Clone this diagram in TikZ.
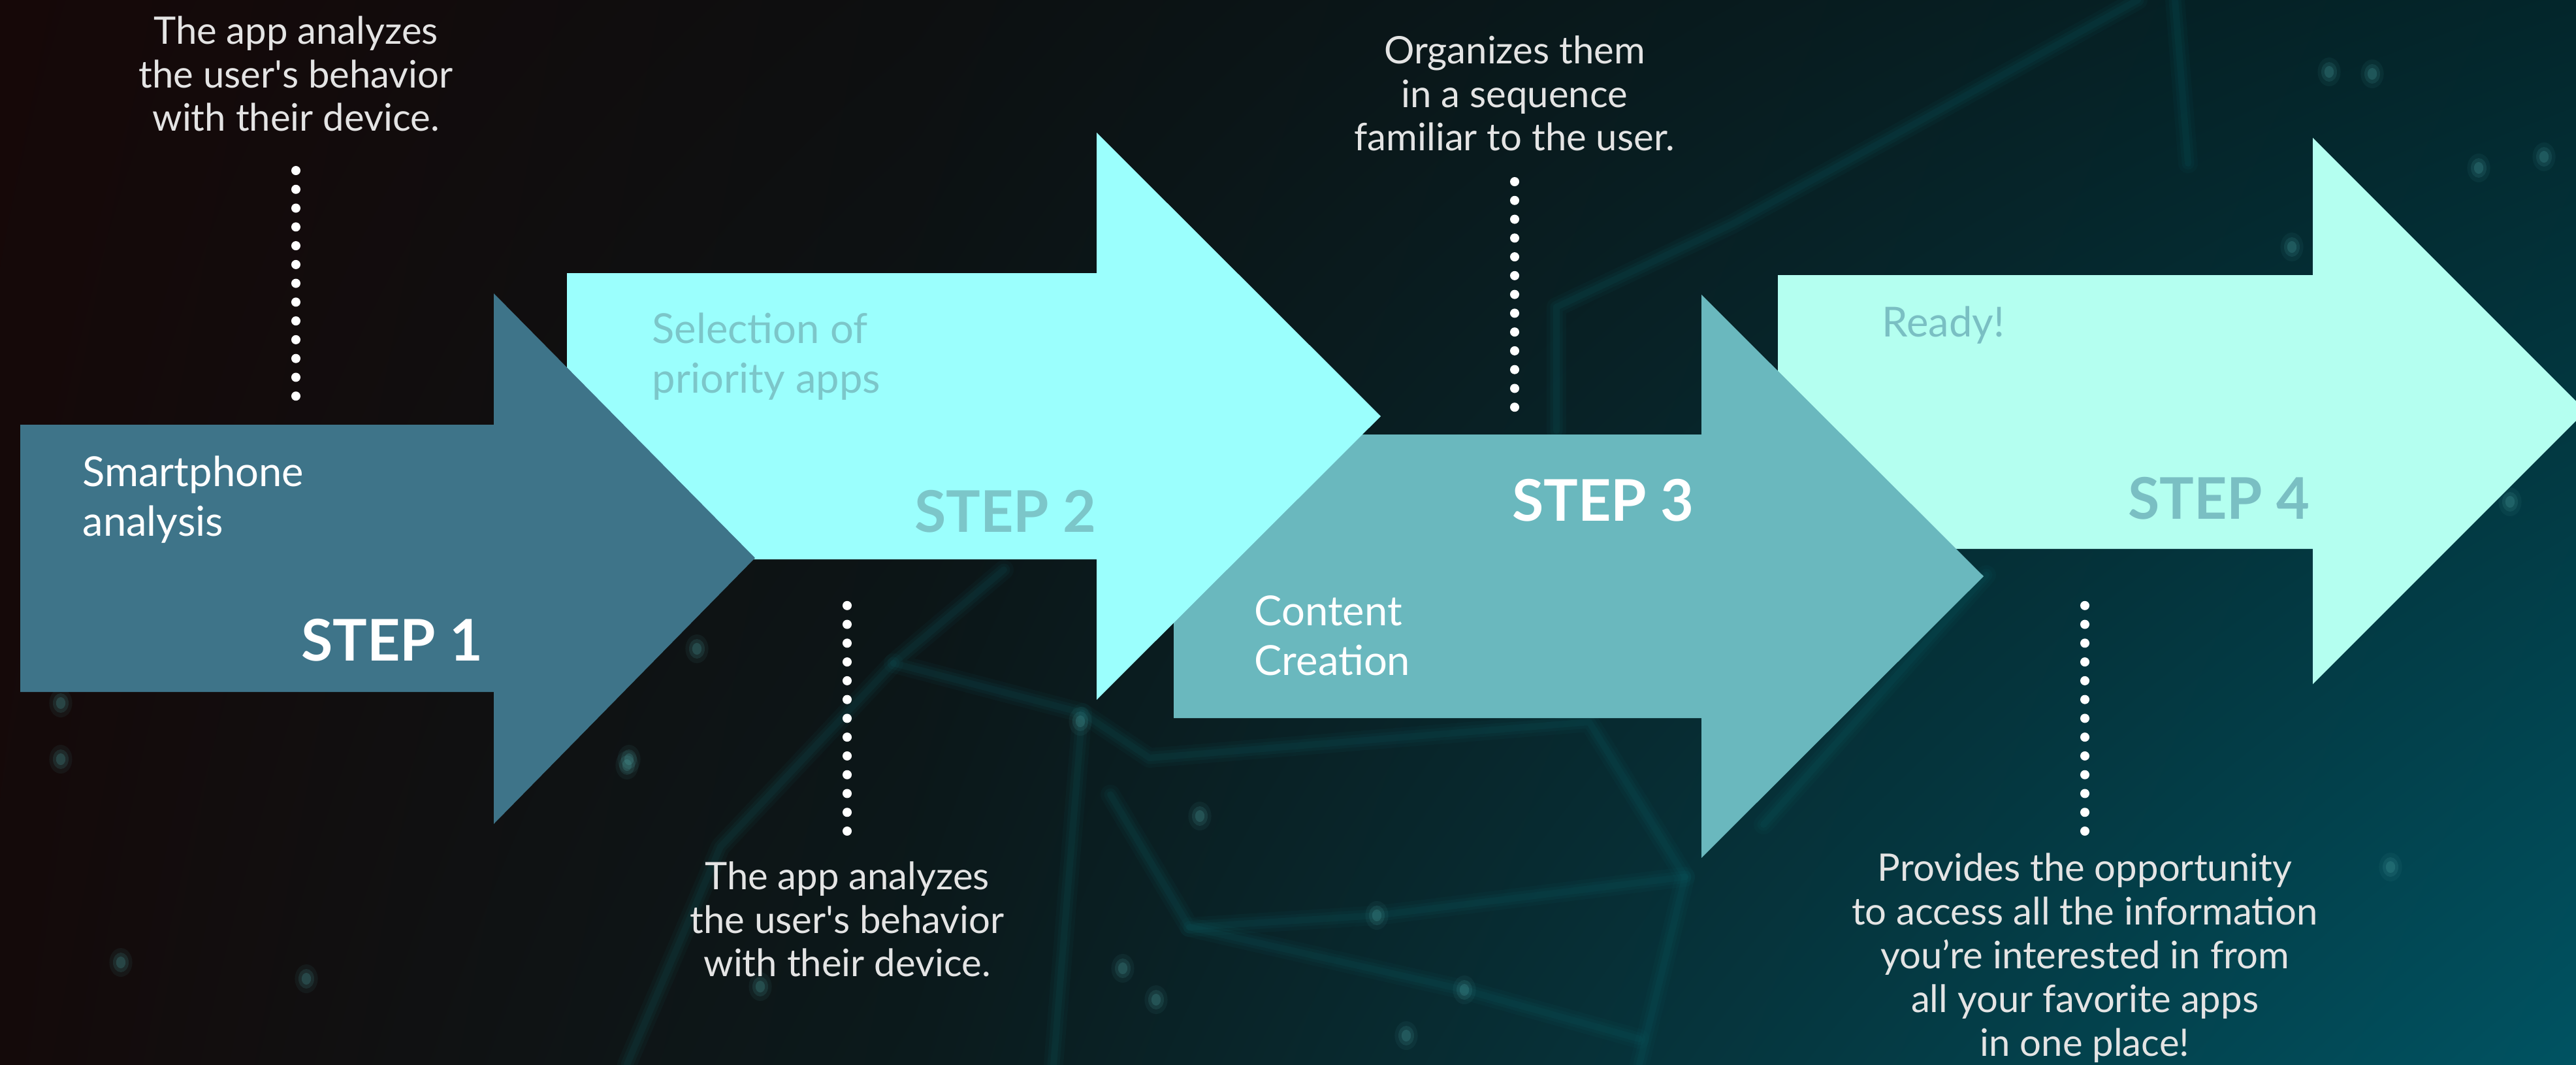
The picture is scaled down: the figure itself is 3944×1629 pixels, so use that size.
\documentclass[tikz,border=0pt]{standalone}
\usepackage{fontspec}
\setmainfont{Lato}
\usetikzlibrary{positioning, calc, shadings}
\definecolor{BgTopLeft}{HTML}{160808}
\definecolor{BgTopMid}{HTML}{0D0F10}
\definecolor{BgTopRight}{HTML}{03262B}
\definecolor{BgBotLeft}{HTML}{140A0A}
\definecolor{BgBotMid}{HTML}{0B1A1C}
\definecolor{BgBotRight}{HTML}{005362}
\definecolor{NetTeal}{HTML}{0E6A70}
\definecolor{NetDot}{HTML}{4FA6A6}
\definecolor{StepOne}{HTML}{3E7489}
\definecolor{StepTwo}{HTML}{9BFFFD}
\definecolor{StepThree}{HTML}{6AB8BE}
\definecolor{StepFour}{HTML}{B4FFF0}
\definecolor{StepTwoText}{HTML}{7CC6C9}
\definecolor{StepFourText}{HTML}{7ABFC3}
\definecolor{NoteGrey}{HTML}{E4E4E4}

\begin{document}
\begin{tikzpicture}[x=0.01cm, y=-0.01cm,
    note/.style={text=NoteGrey, align=center, inner sep=0pt, font=\fontsize{16.5}{19}\selectfont},
    caption/.style={align=left, inner sep=0pt, anchor=west, font=\fontsize{18}{21.6}\selectfont},
    steplabel/.style={inner sep=0pt, anchor=east, font=\fontsize{25}{30}\selectfont\bfseries},
    dotline/.style={white, line width=0.14cm, line cap=round, dash pattern=on 0pt off 0.2875cm},
    netline/.style={NetTeal, line cap=round, line join=round}]

    % Canvas
    \useasboundingbox (0,0) rectangle (3944,1629);
    \clip (0,0) rectangle (3944,1629);
    \shade[upper left=BgTopLeft, upper right=BgTopMid, lower left=BgBotLeft, lower right=BgBotMid]
        (0,0) rectangle (1400,1629);
    \shade[upper left=BgTopMid, upper right=BgTopRight, lower left=BgBotMid, lower right=BgBotRight]
        (1400,0) rectangle (3944,1629);

    % Blurry network behind the arrows
    \foreach \w/\o in {0.30/0.07, 0.19/0.09, 0.10/0.11} {
        \draw[netline, line width=\w cm, opacity=\o]
            (1537,872) -- (1368,1015) -- (1657,1091) -- (1760,1160) -- (2433,1105) -- (2580,1342) -- (2510,1629);
        \draw[netline, line width=\w cm, opacity=\o]
            (1368,1015) -- (1103,1296) -- (960,1629);
        \draw[netline, line width=\w cm, opacity=\o]
            (1657,1091) -- (1613,1629);
        \draw[netline, line width=\w cm, opacity=\o]
            (1700,1216) -- (1821,1419) -- (2108,1401) -- (2580,1342);
        \draw[netline, line width=\w cm, opacity=\o]
            (1821,1419) -- (2242,1515) -- (2510,1590);
        \draw[netline, line width=\w cm, opacity=\o]
            (2383,659) -- (2383,470) -- (2652,343) -- (2900,207) -- (3273,0);
        \draw[netline, line width=\w cm, opacity=\o]
            (2700,1262) -- (3041,880);
        \draw[netline, line width=\w cm, opacity=\o]
            (3330,0) -- (3350,250);
    }
    \foreach \x/\y in {1067/993, 960/1171, 1164/1510, 1654/1104, 1837/1249, 1719/1482,
                       1770/1530, 2108/1401, 2242/1515, 2153/1585, 185/1473, 469/1498,
                       93/1076, 93/1162, 963/1162, 3566/110, 3632/113, 3895/240,
                       3509/378, 3843/768, 3660/1327, 3795/257} {
        \foreach \r/\o in {22/0.08, 15/0.14, 9/0.22}
            \fill[NetDot, opacity=\o] (\x,\y) ellipse ({0.8*\r} and \r);
    }

    % Step 4
    \fill[StepFour] (2722,421) -- (3541,421) -- (3541,211) -- (3959,629)
        -- (3541,1047) -- (3541,840) -- (2722,840) -- cycle;
    % Step 3
    \fill[StepThree] (1797,665) -- (2605,665) -- (2605,451) -- (3037,882)
        -- (2605,1313) -- (2605,1099) -- (1797,1099) -- cycle;
    % Step 2
    \fill[StepTwo] (868,418) -- (1679,418) -- (1679,203) -- (2114,637)
        -- (1679,1071) -- (1679,856) -- (868,856) -- cycle;
    % Step 1
    \fill[StepOne] (31,650) -- (756,650) -- (756,449) -- (1156,854)
        -- (756,1261) -- (756,1059) -- (31,1059) -- cycle;

    % Captions and step numbers
    \node[caption, text=white] (cap1) at (126,765) {Smartphone\\analysis};
    \node[steplabel, text=white] (step1) at (740,980) {STEP 1};
    \node[caption, text=StepTwoText] (cap2) at (998,546) {Selection of\\priority apps};
    \node[steplabel, text=StepTwoText] (step2) at (1679,783) {STEP 2};
    \node[caption, text=white] (cap3) at (1920,973) {Content\\Creation};
    \node[steplabel, text=white] (step3) at (2594,766) {STEP 3};
    \node[caption, text=StepFourText] (cap4) at (2881,498) {Ready!};
    \node[steplabel, text=StepFourText] (step4) at (3537,763) {STEP 4};

    % Notes
    \node[note] (note1) at (453,113) {The app analyzes\\the user\textquotesingle s behavior\\with their device.};
    \node[note] (note2) at (1297,1407) {The app analyzes\\the user\textquotesingle s behavior\\with their device.};
    \node[note] (note3) at (2319,143) {Organizes them\\in a sequence\\familiar to the user.};
    \node[note] (note4) at (3192,1466) {Provides the opportunity\\to access all the information\\you’re interested in from\\all your favorite apps\\in one place!};

    % Dotted leaders
    \draw[dotline] (note1.south |- 0,261) -- (note1.south |- 0,606.5);
    \draw[dotline] (note2.north |- 0,1272) -- (note2.north |- 0,926.5);
    \draw[dotline] (note3.south |- 0,278) -- (note3.south |- 0,623.5);
    \draw[dotline] (note4.north |- 0,1272) -- (note4.north |- 0,926.5);
\end{tikzpicture}
\end{document}
